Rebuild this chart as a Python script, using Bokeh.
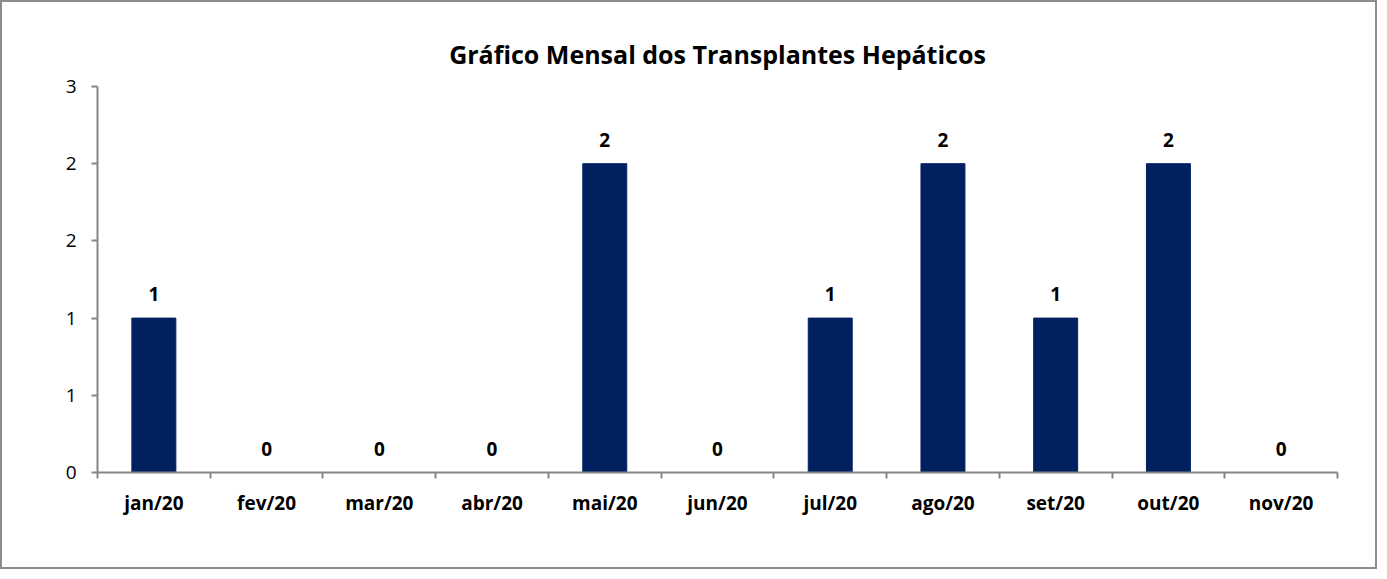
from bokeh.plotting import figure
from bokeh.models import Range1d, FixedTicker, ColumnDataSource, LabelSet
from bokeh.embed import file_html
from bokeh.resources import INLINE
from bokeh.core.properties import value

months = ["jan/20", "fev/20", "mar/20", "abr/20", "mai/20", "jun/20",
          "jul/20", "ago/20", "set/20", "out/20", "nov/20"]
counts = [1, 0, 0, 0, 2, 0, 1, 2, 1, 2, 0]
y_ticks = [0, 0.5, 1.0, 1.5, 2.0, 2.5]
y_tick_labels = ["0", "1", "1", "2", "2", "3"]

FONT = "Open Sans"
xs = [i + 0.5 for i in range(len(months))]
src = ColumnDataSource(dict(x=xs, top=counts, lab=[str(c) for c in counts]))

p = figure(width=1377, height=569, output_backend="svg", toolbar_location=None,
           x_range=Range1d(0, len(months)), y_range=Range1d(0, 2.5),
           min_border_left=95, min_border_right=42, min_border_top=84, min_border_bottom=99)
p.styles = {"border": "2px solid #8c8c8c"}
p.outline_line_color = None
p.xgrid.visible = False
p.ygrid.visible = False

p.vbar(x="x", top="top", width=0.39, bottom=0, source=src, color="#002060")
labels = LabelSet(x="x", y="top", text="lab", source=src, text_align="center",
                  text_baseline="bottom", y_offset=17, text_font=value(FONT),
                  text_font_style="bold", text_font_size="19px", text_color="#000000")
p.add_layout(labels)

p.title.text = "Gráfico Mensal dos Transplantes Hepáticos"
p.title.align = "center"
p.title.text_font = FONT
p.title.text_font_size = "25px"
p.title.text_font_style = "bold"
p.title.text_color = "#000000"
p.title.offset = 38
p.title.standoff = 31

xa = p.xaxis[0]
xa.ticker = FixedTicker(ticks=xs, minor_ticks=list(range(len(months) + 1)))
xa.major_label_overrides = {x: m for x, m in zip(xs, months)}
xa.major_tick_out = 0
xa.major_tick_in = 0
xa.minor_tick_out = 6
xa.minor_tick_in = 0
xa.minor_tick_line_color = "#868686"
xa.minor_tick_line_width = 2
xa.axis_line_color = "#868686"
xa.axis_line_width = 2
xa.major_label_text_font = FONT
xa.major_label_text_font_style = "bold"
xa.major_label_text_font_size = "19px"
xa.major_label_text_color = "#000000"
xa.major_label_standoff = 11

ya = p.yaxis[0]
ya.ticker = FixedTicker(ticks=y_ticks, minor_ticks=[])
ya.major_label_overrides = {t: l for t, l in zip(y_ticks, y_tick_labels)}
ya.major_tick_out = 6
ya.major_tick_in = 0
ya.major_tick_line_color = "#868686"
ya.major_tick_line_width = 2
ya.axis_line_color = "#868686"
ya.axis_line_width = 2
ya.major_label_text_font = FONT
ya.major_label_text_font_size = "19px"
ya.major_label_text_color = "#000000"
ya.major_label_standoff = 15

open("out.html", "w").write(file_html(p, INLINE))
